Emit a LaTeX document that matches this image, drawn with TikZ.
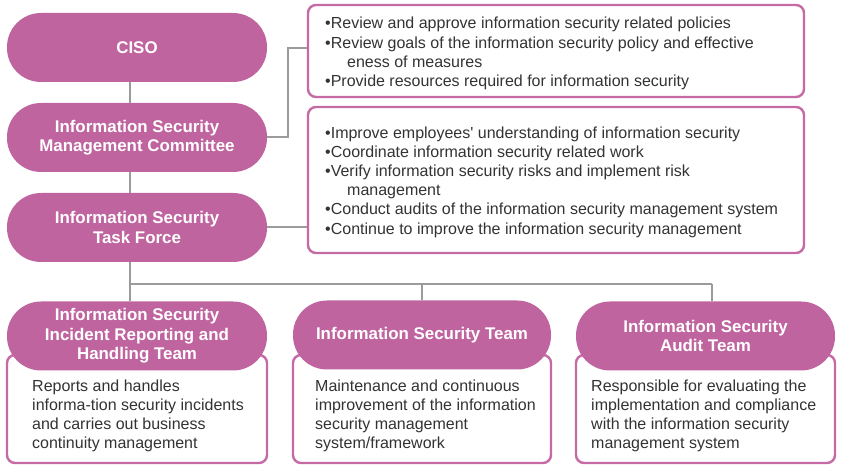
\documentclass[tikz,border=0pt]{standalone}
\usepackage{fontspec}
\setmainfont{Liberation Sans}[Ligatures=TeXOff]
\definecolor{pinkfill}{HTML}{C064A0}
\definecolor{pinkline}{HTML}{C66AA6}
\definecolor{linegray}{HTML}{9B9B9B}
\definecolor{txtgray}{HTML}{333333}
\begin{document}
\begin{tikzpicture}[x=1pt,y=-1pt,
  pill/.style={draw=none, fill=pinkfill, rounded corners=34pt, minimum width=260pt, minimum height=69pt,
    inner sep=0pt, text=white, align=center, font=\fontsize{16.9}{19.5}\selectfont\bfseries},
  descbox/.style={draw=pinkline, line width=2.4pt, fill=white, rounded corners=8pt, inner sep=0pt},
  desctext/.style={anchor=west, inner sep=0pt, align=left, text=txtgray, font=\fontsize{16}{19.2}\selectfont},
  conn/.style={draw=linegray, line width=2pt}
]
\useasboundingbox (0,0) rectangle (841,470);
\fill[white] (0,0) rectangle (841,470);

% top-left pills
\node[pill] (ciso) at (137,47.5) {CISO};
\node[pill] (comm) at (137,137.5) {Information Security\\Management Committee};
\node[pill] (task) at (137,227.5) {Information Security\\Task Force};

% right description boxes
\node[descbox, minimum width=496pt, minimum height=92pt] (rb1) at (556,51) {};
\node[descbox, minimum width=496pt, minimum height=146pt] (rb2) at (556,180) {};
\node[desctext] (rt1) at (325,53.5) {•Review and approve information security related policies\\
•Review goals of the information security policy and effective\\
\hspace*{22pt}eness of measures\\
•Provide resources required for information security};
\node[desctext] (rt2) at (325,182) {•Improve employees' understanding of information security\\
•Coordinate information security related work\\
•Verify information security risks and implement risk\\
\hspace*{22pt}management\\
•Conduct audits of the information security management system\\
•Continue to improve the information security management};

% bottom boxes
\node[descbox, minimum width=260pt, minimum height=108pt] (bb1) at (137,409) {};
\node[descbox, minimum width=258pt, minimum height=108pt] (bb2) at (422,409) {};
\node[descbox, minimum width=259pt, minimum height=108pt] (bb3) at (705.5,409) {};

% bottom pills
\node[pill] (inc) at (137,336) {Information Security\\Incident Reporting and\\Handling Team};
\node[pill, minimum width=258pt] (team) at (422,335) {Information Security Team};
\node[pill, minimum width=259pt] (audit) at (705.5,336) {Information Security\\Audit Team};

% bottom texts
\node[desctext] (bt1) at (32,416) {Reports and handles\\informa-tion security incidents\\and carries out business\\continuity management};
\node[desctext] (bt2) at (315,416) {Maintenance and continuous\\improvement of the information\\security management\\system/framework};
\node[desctext] (bt3) at (591,416) {Responsible for evaluating the\\implementation and compliance\\with the information security\\management system};

% connectors
\coordinate (bus) at (130,284);
\coordinate (busend) at (712,284);
\coordinate (busmid) at (422,284);
\draw[conn] (ciso.south -| bus) -- (comm.north -| bus);
\draw[conn] (comm.south -| bus) -- (task.north -| bus);
\draw[conn] (task.south -| bus) -- (bus);
\draw[conn] (bus) -- (busend);
\draw[conn] (bus) -- (inc.north -| bus);
\draw[conn] (busmid) -- (team.north -| busmid);
\draw[conn] (busend) -- (audit.north -| busend);
\draw[conn] (comm.east) -- (288,137.5) |- (rb1.west |- 0,48);
\draw[conn] (task.east) -- (rb2.west |- task.east);
\end{tikzpicture}
\end{document}
